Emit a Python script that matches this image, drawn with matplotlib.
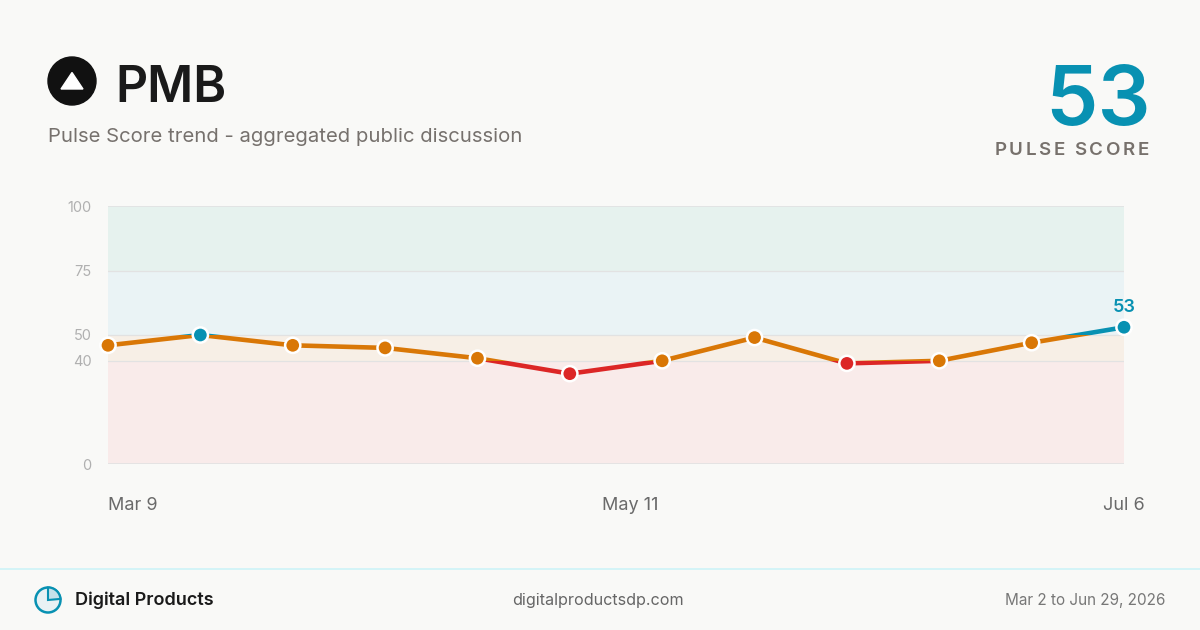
import matplotlib.pyplot as plt
from matplotlib.patches import Rectangle, Circle, Polygon, Wedge
import matplotlib.lines as mlines

plt.rcParams['font.family'] = ['Inter', 'DejaVu Sans']

# weekly pulse score readings
scores = [46, 50, 46, 45, 41, 35, 40, 49, 39, 40, 47, 53]
tick_pos = [0, 5.65, 11]
tick_labels = ["Mar 9", "May 11", "Jul 6"]
y_ticks = [0, 40, 50, 75, 100]
current = 53

BG = "#f9f9f7"
BLUE = "#0891b2"
ORANGE = "#d97706"
RED = "#dc2626"

# background bands
bands = [(0, 40, "#f9ebea"), (40, 50, "#f7efe6"), (50, 75, "#eaf3f5"), (75, 100, "#e6f2ee")]
# line colour by score range
line_zones = [(-20, 40, RED), (40, 50, ORANGE), (50, 120, BLUE)]


def point_color(v):
    if v >= 50:
        return BLUE
    if v >= 40:
        return ORANGE
    return RED


W, H = 1200, 630
fig = plt.figure(figsize=(12, 6.3), dpi=100, facecolor=BG)

ax = fig.add_axes([108 / W, 1 - 464 / H, 1016 / W, 258 / H])
ax.set_facecolor(BG)
ax.set_xlim(0, len(scores) - 1)
ax.set_ylim(0, 100)
for lo, hi, c in bands:
    ax.axhspan(lo, hi, color=c, lw=0, zorder=0)
for t in y_ticks:
    ax.axhline(t, color="#e2e2e2", lw=1.2 if t in (0, 100) else 0.9, zorder=1)

x = list(range(len(scores)))
for lo, hi, c in line_zones:
    ln, = ax.plot(x, scores, color=c, lw=3.3, solid_capstyle="round", zorder=3)
    clip = Rectangle((-1, lo), len(scores) + 1, hi - lo, transform=ax.transData)
    ln.set_clip_path(clip)

ax.scatter(x, scores, s=120, c=[point_color(v) for v in scores], edgecolors="white",
           linewidths=1.8, zorder=4, clip_on=False)
ax.annotate(str(scores[-1]), (x[-1], scores[-1]), xytext=(0, 8), textcoords="offset points",
            ha="center", va="bottom", fontsize=13, fontweight="semibold", color=BLUE)

for s in ax.spines.values():
    s.set_visible(False)
ax.set_yticks(y_ticks)
ax.set_yticklabels([str(t) for t in y_ticks], fontsize=10.5, color="#b0b0b0")
ax.tick_params(axis="y", length=0, pad=12)
ax.set_xticks(tick_pos)
ax.set_xticklabels(tick_labels, fontsize=13, color="#6a6a6a")
ax.tick_params(axis="x", length=0, pad=24)
xl = ax.get_xticklabels()
xl[0].set_ha("left")

# header icon
ic = fig.add_axes([46 / W, 1 - 107 / H, 52 / W, 52 / H])
ic.set_xlim(-26, 26)
ic.set_ylim(-26, 26)
ic.axis("off")
ic.add_patch(Circle((0, 0), 24, color="#111111"))
ic.add_patch(Polygon([[0, 8.5], [-11, -8], [11, -8]], color="white"))

fig.text(115 / W, 1 - 102 / H, "PMB", fontsize=36, fontweight="semibold", color="#1a1a1a", va="baseline")
fig.text(48 / W, 1 - 142 / H, "Pulse Score trend - aggregated public discussion", fontsize=14.6,
         color="#76716d", va="baseline")
fig.text(1151 / W, 1 - 125 / H, str(current), fontsize=60, fontweight="semibold", color=BLUE,
         ha="right", va="baseline")

# letter spaced label
label = "PULSE SCORE"
kw = dict(fontsize=13.5, fontweight="semibold", color="#77716c")
r = fig.canvas.get_renderer()


def tw(s):
    t = fig.text(0, 0, s + "|", **kw)
    w1 = t.get_window_extent(r).width
    t.remove()
    t = fig.text(0, 0, "|", **kw)
    w2 = t.get_window_extent(r).width
    t.remove()
    return w1 - w2


spacing = 2.6
total = tw(label) + spacing * (len(label) - 1)
x0 = 1149 - total
for i, ch in enumerate(label):
    px = x0 + tw(label[:i]) + spacing * i
    fig.text(px / W, 1 - 155 / H, ch, va="baseline", **kw)

# footer
fig.add_artist(mlines.Line2D([0, 1], [1 - 569 / H, 1 - 569 / H], color="#cdf3f8", lw=1.2))
fi = fig.add_axes([(48 - 14) / W, 1 - (600 + 14) / H, 28 / W, 28 / H])
fi.set_xlim(-14, 14)
fi.set_ylim(-14, 14)
fi.axis("off")
fi.add_patch(Circle((0, 0), 12.5, facecolor="#e8f1f4", edgecolor=BLUE, lw=1.8))
fi.add_patch(Wedge((0, 0), 12.5, 5, 90, facecolor="#c7e2ea", edgecolor=BLUE, lw=1.5))
fig.text(75 / W, 1 - 600 / H, "Digital Products", fontsize=13, fontweight="semibold",
         color="#1a1a1a", va="center")
fig.text(598 / W, 1 - 600 / H, "digitalproductsdp.com", fontsize=11.6, color="#666666",
         ha="center", va="center")
fig.text(1165 / W, 1 - 600 / H, "Mar 2 to Jun 29, 2026", fontsize=11, color="#777777",
         ha="right", va="center")

fig.savefig("out.png", dpi=100, facecolor=BG)
